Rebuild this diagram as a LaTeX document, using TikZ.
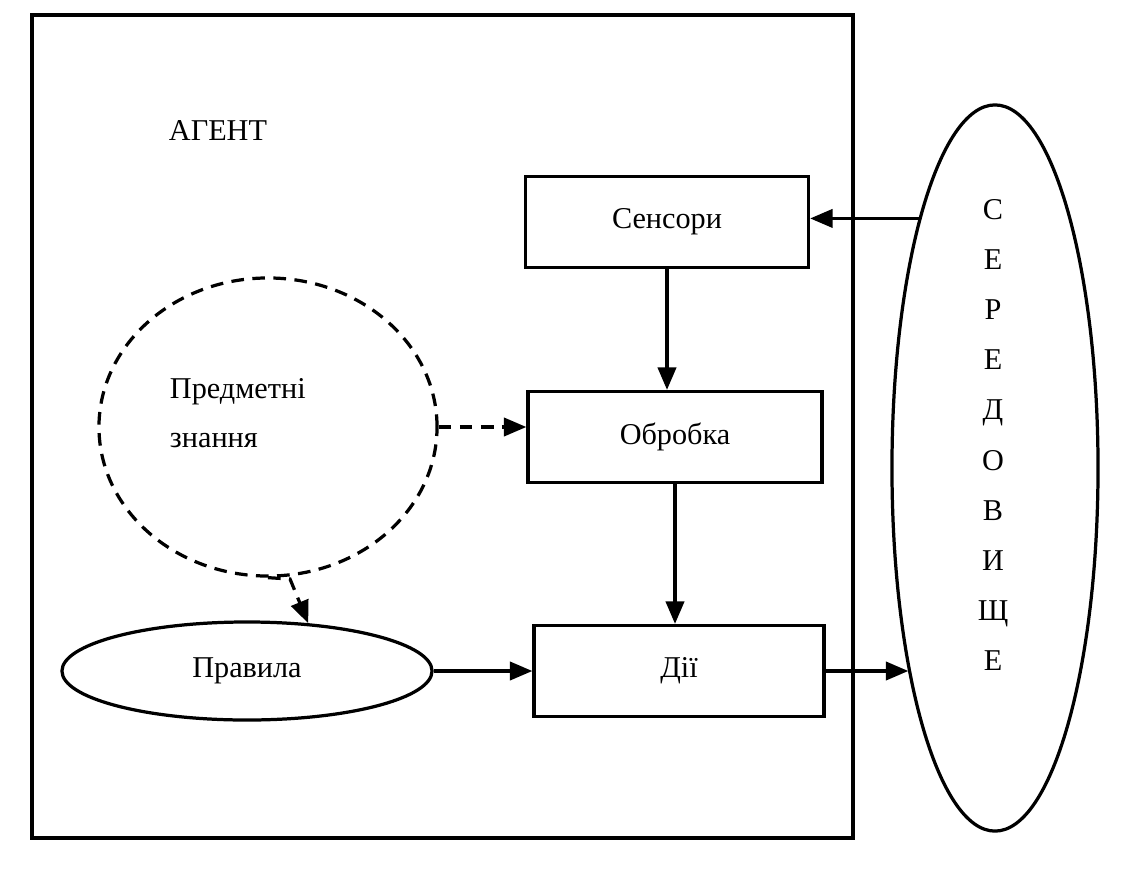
\documentclass[tikz,border=0pt]{standalone}
\usepackage{fontspec}
\setmainfont{Liberation Serif}
\usetikzlibrary{shapes.geometric,arrows.meta}
\tikzset{
  blok/.style={draw,line width=2.3pt,minimum width=#1,minimum height=2.275cm,inner sep=0pt},
  arr/.style={line width=2.3pt,-{Triangle[length=16pt,width=13pt]}},
  dasharr/.style={arr,dash pattern=on 9pt off 6pt},
}
\begin{document}
\begin{tikzpicture}[x=0.025cm,y=-0.025cm,font=\fontsize{21.5}{25}\selectfont]
\useasboundingbox (0,0) rectangle (1125,875);
%the agent frame
\draw[line width=2.3pt] (32,15) rectangle (853,838);
\node (agent) at (218,131) {АГЕНТ};
%the three blocks of the agent
\node[blok=7.075cm] (se) at (667,222) {Сенсори};
\node[blok=7.35cm] (ob) at (675,437) {Обробка};
\node[blok=7.25cm] (di) at (679,671) {Дії};
%knowledge and rules
\node[draw,ellipse,line width=2.3pt,dash pattern=on 9pt off 6pt,minimum width=8.45cm,minimum height=7.45cm] (kz) at (268,427) {};
\node[anchor=west,align=left,font=\fontsize{21.5}{35}\selectfont] (kztext) at (165,413) {Предметні\\знання};
\node[draw,ellipse,line width=2.3pt,minimum width=9.25cm,minimum height=2.45cm,inner sep=0pt] (pr) at (247,671) {Правила};
%the environment
\node[draw,ellipse,line width=2.3pt,minimum width=5.15cm,minimum height=18.15cm] (env) at (995,468) {};
\node[align=center,font=\fontsize{21.5}{35.6}\selectfont] (envtext) at (993,435) {С\\Е\\Р\\Е\\Д\\О\\В\\И\\Щ\\Е};
%connectors
\draw[arr] (env.107) -- (env.107 -| se.east);
\draw[arr] (se.south) -- (se.south |- ob.north);
\draw[arr] (ob.south) -- (ob.south |- di.north);
\draw[arr] (pr.east) -- (di.west);
\draw[arr] (di.east) -- (di.east -| env.247);
\draw[dasharr] (kz.east) -- (kz.east -| ob.west);
\coordinate (kzbend) at (290,579);
\draw[dasharr] (kz.south) -- (kzbend) -- (pr.38);
\end{tikzpicture}
\end{document}
